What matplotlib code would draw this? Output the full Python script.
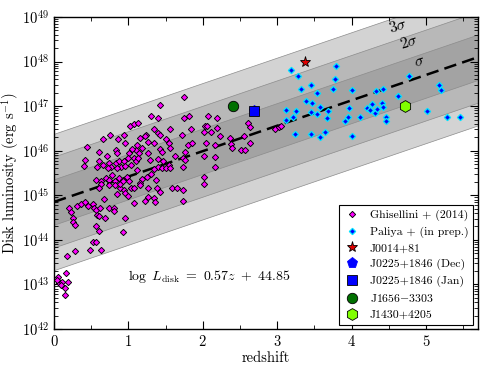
import matplotlib
matplotlib.use("Agg")
import matplotlib.pyplot as plt
import numpy as np

plt.rcParams["font.family"] = ["cmr10", "DejaVu Serif"]
plt.rcParams["mathtext.fontset"] = "cm"
plt.rcParams["axes.formatter.use_mathtext"] = True
plt.rcParams["axes.unicode_minus"] = False
plt.rcParams["axes.linewidth"] = 1.0

# fit: log L_disk = slope * z + intercept, scatter sigma (dex)
slope = 0.57
intercept = 44.85
sigma = 0.51

# Ghisellini + (2014): redshift, log L_disk
ghis_z = [
    0.44, 0.60, 0.41, 0.40, 0.66, 0.75, 0.71, 0.83, 0.85, 0.86, 0.94, 0.96, 1.02, 1.07,
    1.10, 1.01, 1.05, 1.08, 1.00, 1.10, 0.61, 0.66, 0.74, 0.76, 0.83, 0.87, 0.90, 0.94,
    0.96, 1.03, 0.58,
    1.75, 1.43, 1.31, 1.40, 1.75, 1.82, 2.07, 2.19, 1.13, 1.35, 1.56, 1.84, 2.03, 2.06,
    2.19, 1.72, 2.01, 2.11, 1.23, 1.40, 1.43, 1.16, 1.22, 1.34, 1.50, 1.55, 1.80, 1.86,
    2.04, 2.17, 1.11, 1.27, 1.18, 1.26, 1.43, 1.45, 1.56, 1.14, 1.62, 1.76, 1.74, 2.01,
    2.17, 2.17, 1.40, 1.47, 1.29, 1.54, 1.40, 1.76, 1.13, 1.45,
    0.72, 0.85, 0.57, 0.63, 0.70, 0.74, 0.78, 0.82, 0.87, 0.93, 0.98, 1.01, 0.63, 0.74,
    0.82, 0.89, 0.94, 0.96, 1.04, 1.08, 0.67, 0.31, 0.20, 0.36, 0.41, 0.46, 0.52, 0.54,
    0.56, 0.23, 0.26, 0.25, 0.28, 0.58, 0.61, 0.74, 0.80, 0.81, 0.69, 0.57, 0.60, 0.93,
    0.95, 0.52, 0.56, 1.07,
    1.11, 1.18, 1.25, 1.31, 1.35, 1.51, 1.56, 1.37, 1.16, 1.26, 1.38, 1.43, 1.58, 1.66,
    1.73, 1.73, 2.02, 2.02, 1.26, 1.34, 1.22, 1.36, 1.74,
    0.61, 0.85, 0.89, 1.00, 1.16, 0.93, 0.62,
    0.17, 0.28, 0.48, 0.63,
    0.05, 0.16, 0.07, 0.11, 0.19, 0.09, 0.15, 0.15, 0.04,
    2.23, 2.37, 2.38, 2.56, 2.64, 2.39, 2.52, 2.57, 2.61, 2.64, 2.97, 3.03, 3.05,
]
ghis_logL = [
    46.08, 45.96, 45.80, 45.66, 46.26, 46.35, 45.88, 46.02, 45.94, 46.26, 46.35, 46.18, 46.56, 46.60,
    46.02, 45.94, 46.03, 45.83, 45.84, 45.76, 45.76, 45.68, 45.73, 45.63, 45.73, 45.76, 45.64, 45.76,
    45.66, 45.68, 45.63,
    47.20, 47.03, 46.78, 46.73, 46.73, 46.78, 46.78, 46.73, 46.62, 46.48, 46.48, 46.48, 46.56, 46.56,
    46.50, 46.35, 46.41, 46.41, 46.35, 46.39, 46.35, 46.28, 46.32, 46.18, 46.26, 46.18, 46.13, 46.18,
    46.17, 46.13, 46.13, 46.20, 46.06, 45.94, 46.03, 45.98, 46.06, 45.95, 45.88, 45.96, 45.83, 45.88,
    45.85, 45.64, 45.81, 45.76, 45.79, 45.68, 45.64, 45.79, 45.83, 45.61,
    45.62, 45.62, 45.35, 45.32, 45.38, 45.35, 45.46, 45.32, 45.38, 45.35, 45.42, 45.32, 45.25, 45.23,
    45.22, 45.16, 45.12, 45.05, 45.16, 45.17, 44.92, 44.77, 44.72, 44.80, 44.84, 44.77, 44.80, 44.72,
    44.67, 44.63, 44.49, 44.40, 44.34, 44.56, 44.54, 44.71, 44.72, 44.65, 44.49, 44.30, 44.20, 44.17,
    44.49, 43.95, 43.95, 44.82,
    45.57, 45.37, 45.42, 45.47, 45.59, 45.62, 45.61, 45.35, 45.27, 45.16, 45.17, 45.07, 45.17, 45.16,
    45.12, 45.64, 45.42, 45.25, 44.97, 44.93, 44.87, 44.85, 44.87,
    45.16, 45.03, 45.26, 44.98, 45.24, 45.31, 44.71,
    43.64, 43.75, 43.78, 43.78,
    43.17, 43.26, 43.04, 43.06, 43.06, 42.99, 42.92, 42.77, 43.10,
    46.32, 46.28, 46.15, 46.33, 46.18, 46.06, 46.02, 46.02, 46.62, 46.53, 46.48, 46.54, 46.56,
]

# Paliya + (in prep.)
paliya_z = [
    3.19, 3.28, 3.79, 3.78, 3.32, 3.46, 3.53, 3.75, 4.01, 4.33, 4.42, 4.77, 4.63, 5.18,
    5.20, 3.39, 3.47, 3.57, 3.26, 3.12, 3.45, 3.54, 3.69, 3.97, 3.21, 3.12, 3.67, 3.95,
    3.91, 4.11, 4.21, 4.25, 4.28, 4.32, 4.34, 4.41, 4.42, 4.46, 4.47, 5.01, 5.29, 5.46,
    3.24, 3.45, 3.57, 3.64, 4.01,
]
paliya_logL = [
    47.81, 47.68, 47.90, 47.60, 47.39, 47.48, 47.30, 47.38, 47.36, 47.34, 47.39, 47.68, 47.23, 47.48,
    47.36, 47.12, 47.07, 46.99, 46.90, 46.91, 46.86, 46.83, 46.89, 46.96, 46.76, 46.69, 46.73, 46.76,
    46.67, 46.76, 46.95, 46.92, 47.04, 46.85, 46.93, 47.07, 46.99, 46.76, 46.67, 46.90, 46.76, 46.76,
    46.38, 46.38, 46.30, 46.42, 46.33,
]

# individual sources: (z, log L_disk)
j0014 = (3.37, 48.00)
j0225_dec = (2.69, 46.88)
j0225_jan = (2.69, 46.90)
j1656 = (2.40, 47.00)
j1430 = (4.72, 47.00)

z_max = 5.7

fig = plt.figure(figsize=(4.91, 3.70), dpi=100)
ax = fig.add_axes([0.110, 0.111, 0.8635, 0.843])

zz = np.linspace(0, z_max, 50)
fit = slope * zz + intercept
for k, col in [(3, "#d3d3d3"), (2, "#b8b8b8"), (1, "#a3a3a3")]:
    ax.fill_between(zz, 10 ** (fit - k * sigma), 10 ** (fit + k * sigma),
                    facecolor=col, edgecolor="#8c8c8c", lw=0.5, zorder=1)
ax.plot(zz, 10 ** fit, color="black", lw=1.8, dashes=(5, 2.5), zorder=3)

ax.plot(ghis_z, 10 ** np.array(ghis_logL), ls="none", marker="D", ms=3.2,
        mfc="#ff00ff", mec="black", mew=0.65, zorder=4, label="Ghisellini + (2014)")
ax.plot(paliya_z, 10 ** np.array(paliya_logL), ls="none", marker="D", ms=3.2,
        mfc="#0000ff", mec="#00e5ff", mew=0.9, zorder=4, label="Paliya + (in prep.)")
ax.plot(j0014[0], 10 ** j0014[1], ls="none", marker="*", ms=8, mfc="#e00000",
        mec="black", mew=0.6, zorder=5, label="J0014+81")
ax.plot(j0225_dec[0], 10 ** j0225_dec[1], ls="none", marker="p", ms=8, mfc="#0000ff",
        mec="#0000ff", mew=0.6, zorder=5, label="J0225+1846 (Dec)")
ax.plot(j0225_jan[0], 10 ** j0225_jan[1], ls="none", marker="s", ms=6.5, mfc="#0000ff",
        mec="black", mew=0.6, zorder=6, label="J0225+1846 (Jan)")
ax.plot(j1656[0], 10 ** j1656[1], ls="none", marker="o", ms=7.5, mfc="#007000",
        mec="black", mew=0.6, zorder=5, label="J1656$-$3303")
ax.plot(j1430[0], 10 ** j1430[1], ls="none", marker="h", ms=8.5, mfc="#80ff00",
        mec="black", mew=0.6, zorder=5, label="J1430+4205")

ax.text(4.63, 10 ** 48.80, r"$3\sigma$", fontsize=11.5, rotation=17, ha="center", va="center")
ax.text(4.77, 10 ** 48.44, r"$2\sigma$", fontsize=11.5, rotation=17, ha="center", va="center")
ax.text(4.91, 10 ** 47.99, r"$\sigma$", fontsize=11.5, rotation=17, ha="center", va="center")
ax.text(1.0, 10 ** 43.17, r"$\log\ L_{\rm disk}\ =\ 0.57z\ +\ 44.85$", fontsize=10, va="center")

ax.set_yscale("log")
ax.set_xlim(0, z_max)
ax.set_ylim(1e42, 1e49)
ax.set_xticks([0, 1, 2, 3, 4, 5])
ax.set_xticks(np.arange(0.5, 5.6, 1.0), minor=True)
ax.tick_params(which="both", direction="in", top=True, right=True, labelsize=10.5)
ax.tick_params(which="major", length=6, width=0.8)
ax.tick_params(which="minor", length=3, width=0.6)
ax.set_xlabel("redshift", fontsize=10.5, labelpad=2)
ax.set_ylabel(r"Disk luminosity (erg s$^{-1}$)", fontsize=10.5)
ax.yaxis.set_label_coords(-0.077, 0.5)

leg = ax.legend(loc="lower right", bbox_to_anchor=(0.988, 0.014), borderaxespad=0,
                fontsize=8.5, fancybox=False, framealpha=1, edgecolor="black",
                handlelength=1.4, labelspacing=0.45, numpoints=1, markerscale=1.0)
leg.get_frame().set_linewidth(0.8)

fig.savefig("out.png", dpi=100)
